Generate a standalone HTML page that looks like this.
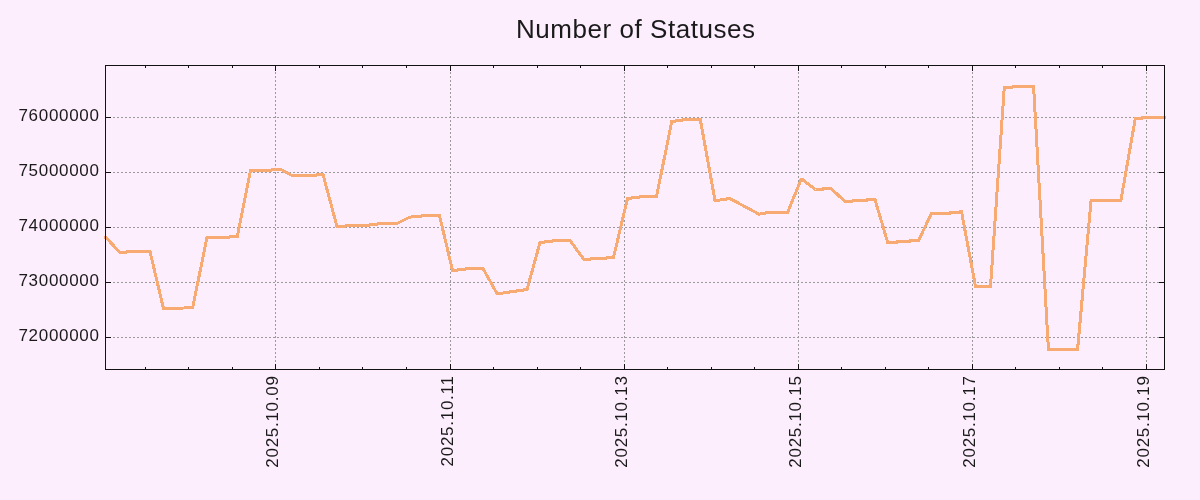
<!DOCTYPE html>
<html><head><meta charset="utf-8"><title>Number of Statuses</title>
<style>
html,body{margin:0;padding:0;background:#fdeefe;}
body{width:1200px;height:500px;overflow:hidden;position:relative;}
svg{position:absolute;left:0;top:0;will-change:transform;}
text{font-family:"Liberation Sans",sans-serif;fill:#1a1a1a;}
</style></head><body>
<svg width="1200" height="500" viewBox="0 0 1200 500">
<rect x="0" y="0" width="1200" height="500" fill="#fdeefe"/>
<g stroke="#9a9a9a" stroke-width="1" stroke-dasharray="2 2" shape-rendering="crispEdges" fill="none"><path d="M105 117.5H1165" /><path d="M105 172.5H1165" /><path d="M105 227.5H1165" /><path d="M105 282.5H1165" /><path d="M105 337.5H1165" /><path d="M275.5 65V370" stroke-dashoffset="1" /><path d="M450.5 65V370" stroke-dashoffset="1" /><path d="M624.5 65V370" stroke-dashoffset="1" /><path d="M798.5 65V370" stroke-dashoffset="1" /><path d="M972.5 65V370" stroke-dashoffset="1" /><path d="M1146.5 65V370" stroke-dashoffset="1" /></g>
<g stroke="#111" stroke-width="1" shape-rendering="crispEdges" fill="none"><path d="M105 117.5h6M1165 117.5h-6" /><path d="M105 172.5h6M1165 172.5h-6" /><path d="M105 227.5h6M1165 227.5h-6" /><path d="M105 282.5h6M1165 282.5h-6" /><path d="M105 337.5h6M1165 337.5h-6" /><path d="M275.5 370v-6M275.5 65v6" /><path d="M450.5 370v-6M450.5 65v6" /><path d="M624.5 370v-6M624.5 65v6" /><path d="M798.5 370v-6M798.5 65v6" /><path d="M972.5 370v-6M972.5 65v6" /><path d="M1146.5 370v-6M1146.5 65v6" /><path d="M145.5 370v-3M145.5 65v3" /><path d="M188.5 370v-3M188.5 65v3" /><path d="M232.5 370v-3M232.5 65v3" /><path d="M319.5 370v-3M319.5 65v3" /><path d="M362.5 370v-3M362.5 65v3" /><path d="M406.5 370v-3M406.5 65v3" /><path d="M493.5 370v-3M493.5 65v3" /><path d="M537.5 370v-3M537.5 65v3" /><path d="M580.5 370v-3M580.5 65v3" /><path d="M667.5 370v-3M667.5 65v3" /><path d="M711.5 370v-3M711.5 65v3" /><path d="M754.5 370v-3M754.5 65v3" /><path d="M841.5 370v-3M841.5 65v3" /><path d="M885.5 370v-3M885.5 65v3" /><path d="M928.5 370v-3M928.5 65v3" /><path d="M1015.5 370v-3M1015.5 65v3" /><path d="M1059.5 370v-3M1059.5 65v3" /><path d="M1102.5 370v-3M1102.5 65v3" /></g>
<polyline points="105.3,236.9 120.0,252.5 126.0,252.5 127.0,251.5 150.0,251.5 163.4,308.2 184.6,308.0 192.7,307.4 207.0,237.5 229.0,237.5 230.0,236.5 237.3,236.5 250.5,170.5 271.0,170.5 272.0,169.5 281.0,169.5 292.0,175.5 316.0,175.5 317.0,174.5 323.0,174.5 337.0,226.5 345.0,226.5 346.0,225.5 369.0,225.5 370.0,224.5 377.0,224.5 378.0,223.5 397.0,223.5 409.0,217.5 413.0,216.5 421.0,216.5 422.0,215.5 439.5,215.5 452.5,270.5 457.0,270.5 458.0,269.5 465.0,269.5 466.0,268.5 483.0,268.5 497.0,293.5 500.0,293.4 527.0,289.5 540.0,242.5 544.0,242.5 545.0,241.5 552.0,241.5 553.0,240.5 570.0,240.5 584.0,259.5 590.0,259.5 591.0,258.5 606.0,258.5 607.0,257.5 613.5,257.5 627.5,198.5 631.0,198.5 632.0,197.5 639.0,197.5 640.0,196.5 656.5,196.5 671.8,121.5 675.0,121.5 676.0,120.5 682.0,120.5 683.0,119.5 700.3,119.5 715.0,200.5 726.0,199.5 727.5,198.6 730.0,198.6 759.0,214.2 762.0,213.6 768.5,212.5 787.6,212.5 801.1,179.4 802.2,179.4 815.5,189.5 822.5,189.5 823.5,188.5 831.0,188.5 845.0,201.5 852.0,201.5 853.0,200.5 866.5,200.5 867.5,199.5 875.0,199.5 887.7,242.5 896.5,242.5 897.5,241.5 909.5,241.5 910.5,240.5 918.5,240.5 931.5,213.5 949.5,213.5 950.5,212.5 959.0,212.5 960.0,211.5 961.5,211.5 975.5,286.5 990.5,286.5 1004.3,87.5 1012.0,87.5 1013.0,86.5 1033.6,86.5 1048.4,349.0 1077.6,349.0 1091.1,200.3 1120.9,200.3 1135.3,118.5 1141.5,118.5 1142.5,117.5 1165.5,117.5" fill="none" stroke="#f7aa72" stroke-width="3" stroke-linejoin="miter" stroke-miterlimit="2" shape-rendering="crispEdges"/>
<rect x="104" y="236" width="2" height="3" fill="#f7aa72"/>
<path d="M105.5 65.5H1164.5V369.5H105.5Z" stroke="#111" stroke-width="1" shape-rendering="crispEdges" fill="none"/>
<text x="99.7" y="121" text-anchor="end" font-size="17" letter-spacing="0.7">76000000</text>
<text x="99.7" y="176" text-anchor="end" font-size="17" letter-spacing="0.7">75000000</text>
<text x="99.7" y="231" text-anchor="end" font-size="17" letter-spacing="0.7">74000000</text>
<text x="99.7" y="286" text-anchor="end" font-size="17" letter-spacing="0.7">73000000</text>
<text x="99.7" y="341" text-anchor="end" font-size="17" letter-spacing="0.7">72000000</text>
<text transform="translate(277.6,375.4) rotate(-90)" text-anchor="end" font-size="17" letter-spacing="0.72">2025.10.09</text>
<text transform="translate(452.6,375.4) rotate(-90)" text-anchor="end" font-size="17" letter-spacing="0.72">2025.10.11</text>
<text transform="translate(626.6,375.4) rotate(-90)" text-anchor="end" font-size="17" letter-spacing="0.72">2025.10.13</text>
<text transform="translate(800.6,375.4) rotate(-90)" text-anchor="end" font-size="17" letter-spacing="0.72">2025.10.15</text>
<text transform="translate(974.6,375.4) rotate(-90)" text-anchor="end" font-size="17" letter-spacing="0.72">2025.10.17</text>
<text transform="translate(1148.6,375.4) rotate(-90)" text-anchor="end" font-size="17" letter-spacing="0.72">2025.10.19</text>
<text x="635.8" y="38.1" text-anchor="middle" font-size="26" letter-spacing="0.54">Number of Statuses</text>
</svg>
</body></html>
